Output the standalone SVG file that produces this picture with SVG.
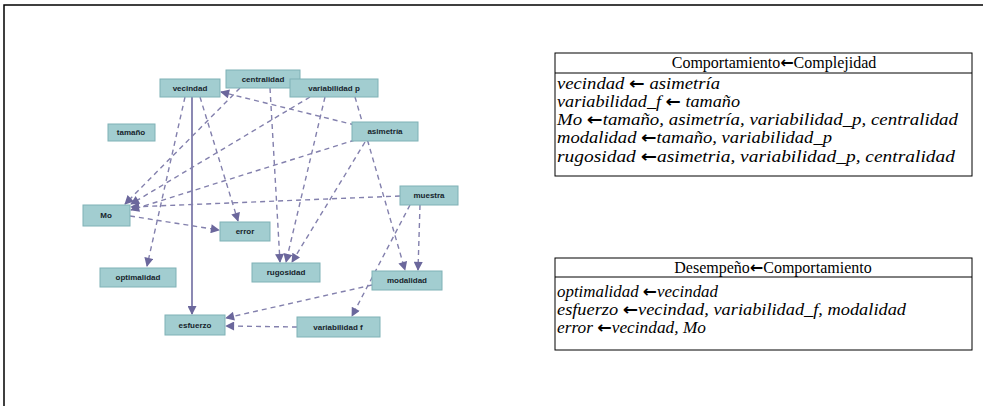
<svg xmlns="http://www.w3.org/2000/svg" width="983" height="406" viewBox="0 0 983 406">
<style>
.frame{fill:none;stroke:#000;stroke-width:1.5}
.node rect{fill:#a2cdd0;stroke:#7fb1b6;stroke-width:1}
.node text{font-family:"Liberation Sans",Arial,sans-serif;font-size:8px;font-weight:bold;fill:#16242c;text-anchor:middle}
.edge{fill:none;stroke:#8380ad;stroke-width:1.4;stroke-dasharray:5 4}
.solid{fill:none;stroke:#6f6ba0;stroke-width:1.6}
.tbl{fill:#fff;stroke:#000;stroke-width:1}
.hd{font-family:"Liberation Serif","Times New Roman",serif;font-size:16px;fill:#000;text-anchor:middle}
.row{font-family:"Liberation Serif","Times New Roman",serif;font-size:16.5px;font-style:italic;fill:#000}
.ar{font-family:"DejaVu Sans",sans-serif;font-weight:bold;font-style:normal}
</style>
<defs>
<marker id="ah" viewBox="0 0 10 10" refX="9" refY="5" markerWidth="10" markerHeight="9" markerUnits="userSpaceOnUse" orient="auto">
<path d="M0,0 L10,5 L0,10 z" fill="#6b679c"/>
</marker>
</defs>
<rect width="983" height="406" fill="#fff"/>
<path class="frame" d="M4,406 L4,5 L983,5"/>
<g id="connectors">
<line class="solid" x1="192" y1="97" x2="192" y2="314" marker-end="url(#ah)"/>
<line class="edge" x1="200" y1="97" x2="238" y2="221" marker-end="url(#ah)"/>
<line class="edge" x1="185" y1="97" x2="147" y2="266" marker-end="url(#ah)"/>
<line class="edge" x1="130" y1="216" x2="219" y2="230" marker-end="url(#ah)"/>
<line class="edge" x1="297" y1="327" x2="226" y2="326" marker-end="url(#ah)"/>
<line class="edge" x1="372" y1="285" x2="226" y2="318" marker-end="url(#ah)"/>
<line class="edge" x1="400" y1="196" x2="131" y2="207" marker-end="url(#ah)"/>
<line class="edge" x1="355" y1="140" x2="131" y2="210" marker-end="url(#ah)"/>
<line class="edge" x1="310" y1="97" x2="131" y2="204" marker-end="url(#ah)"/>
<line class="edge" x1="240" y1="88" x2="125" y2="204" marker-end="url(#ah)"/>
<line class="edge" x1="355" y1="125" x2="221" y2="92" marker-end="url(#ah)"/>
<line class="edge" x1="410" y1="205" x2="352" y2="316" marker-end="url(#ah)"/>
<line class="edge" x1="420" y1="205" x2="418" y2="270" marker-end="url(#ah)"/>
<line class="edge" x1="355" y1="97" x2="405" y2="270" marker-end="url(#ah)"/>
<line class="edge" x1="365" y1="142" x2="292" y2="262" marker-end="url(#ah)"/>
<line class="edge" x1="325" y1="97" x2="286" y2="262" marker-end="url(#ah)"/>
<line class="edge" x1="270" y1="88" x2="280" y2="262" marker-end="url(#ah)"/>
</g>
<g id="n-centralidad" class="node"><rect x="226" y="70" width="74" height="18"/><text x="263" y="82">centralidad</text></g>
<g id="n-vecindad" class="node"><rect x="160" y="79" width="60" height="18"/><text x="190" y="91">vecindad</text></g>
<g id="n-variabilidad-p" class="node"><rect x="290" y="79" width="88" height="18"/><text x="334" y="91">variabilidad p</text></g>
<g id="n-tamano" class="node"><rect x="108" y="124" width="47" height="17"/><text x="131" y="135">tamaño</text></g>
<g id="n-asimetria" class="node"><rect x="352" y="122" width="66" height="19"/><text x="385" y="134">asimetría</text></g>
<g id="n-muestra" class="node"><rect x="400" y="186" width="58" height="19"/><text x="429" y="198">muestra</text></g>
<g id="n-mo" class="node"><rect x="83" y="205" width="47" height="21"/><text x="106" y="218">Mo</text></g>
<g id="n-error" class="node"><rect x="220" y="222" width="50" height="19"/><text x="245" y="234">error</text></g>
<g id="n-optimalidad" class="node"><rect x="100" y="268" width="76" height="19"/><text x="138" y="280">optimalidad</text></g>
<g id="n-rugosidad" class="node"><rect x="252" y="263" width="68" height="19"/><text x="286" y="275">rugosidad</text></g>
<g id="n-modalidad" class="node"><rect x="372" y="271" width="70" height="19"/><text x="407" y="283">modalidad</text></g>
<g id="n-esfuerzo" class="node"><rect x="165" y="315" width="60" height="20"/><text x="195" y="328">esfuerzo</text></g>
<g id="n-variabilidad-f" class="node"><rect x="297" y="317" width="83" height="20"/><text x="338" y="330">variabilidad f</text></g>
<g id="table1">
<rect class="tbl" x="555" y="53" width="417" height="123"/>
<line class="tbl" x1="555" y1="73" x2="972" y2="73"/>
<text class="hd" x="774" y="68">Comportamiento<tspan class="ar">←</tspan>Complejidad</text>
<text class="row" x="557" y="89" textLength="163" lengthAdjust="spacingAndGlyphs">vecindad <tspan class="ar">←</tspan> asimetría</text>
<text class="row" x="557" y="107" textLength="183" lengthAdjust="spacingAndGlyphs">variabilidad_f <tspan class="ar">←</tspan> tamaño</text>
<text class="row" x="557" y="125" textLength="401" lengthAdjust="spacingAndGlyphs">Mo <tspan class="ar">←</tspan>tamaño, asimetría, variabilidad_p, centralidad</text>
<text class="row" x="557" y="143" textLength="275" lengthAdjust="spacingAndGlyphs">modalidad <tspan class="ar">←</tspan>tamaño, variabilidad_p</text>
<text class="row" x="557" y="162" textLength="398" lengthAdjust="spacingAndGlyphs">rugosidad <tspan class="ar">←</tspan>asimetria, variabilidad_p, centralidad</text>
</g>
<g id="table2">
<rect class="tbl" x="555" y="258" width="417" height="92"/>
<line class="tbl" x1="555" y1="277" x2="972" y2="277"/>
<text class="hd" x="773" y="273">Desempeño<tspan class="ar">←</tspan>Comportamiento</text>
<text class="row" x="557" y="297" textLength="161" lengthAdjust="spacingAndGlyphs">optimalidad <tspan class="ar">←</tspan>vecindad</text>
<text class="row" x="557" y="315" textLength="349" lengthAdjust="spacingAndGlyphs">esfuerzo <tspan class="ar">←</tspan>vecindad, variabilidad_f, modalidad</text>
<text class="row" x="557" y="333" textLength="149" lengthAdjust="spacingAndGlyphs">error <tspan class="ar">←</tspan>vecindad, Mo</text>
</g>
</svg>
